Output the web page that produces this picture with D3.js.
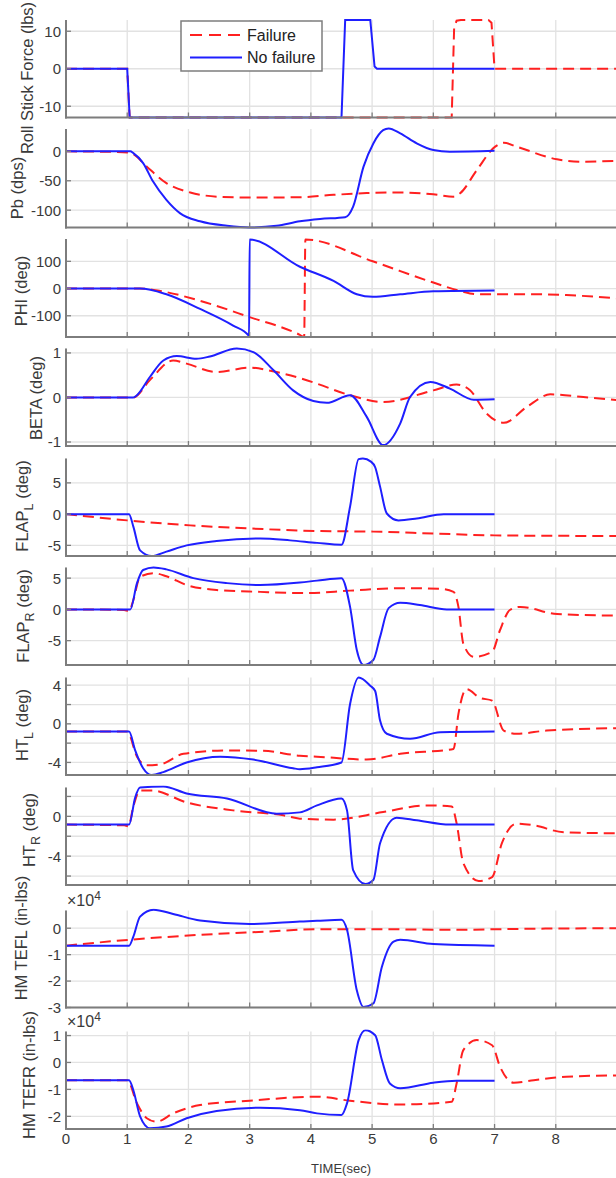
<!DOCTYPE html>
<html>
<head>
<meta charset="utf-8">
<script src="https://cdn.jsdelivr.net/npm/d3@7"></script>
<style>
  body { margin: 0; background: #fff; }
  svg { display: block; font-family: "Liberation Sans", Arial, sans-serif; }
</style>
</head>
<body>
<svg id="chart"></svg>
<script>
// time axis
const timeTicks = [0, 1, 2, 3, 4, 5, 6, 7, 8];
const seriesNames = ["Failure", "No failure"];

// each series is [time (sec), value]
const rollFail = [[0,0],[1.0,0],[1.04,-13],[6.30,-13],[6.34,11],[6.38,12.8],[6.45,13],[6.9,13],[6.95,12.3],[7.0,0],[9,0]];
const rollNoFail = [[0,0],[1.0,0],[1.04,-13],[4.5,-13],[4.56,13],[4.97,13],[5.04,0.6],[5.08,0],[7,0]];

const pbFail = [[0,0],[0.8,-1],[1.0,-2],[1.1,-5],[1.32,-26],[1.64,-54],[2.03,-70],[2.46,-77],[3.0,-78.6],[3.82,-78],[4.37,-74],[4.91,-71],[5.46,-70],[6.0,-73],[6.33,-77],[6.44,-71],[6.71,-32],[7.01,8],[7.15,14.6],[7.36,8],[8.02,-13.5],[8.45,-17.6],[9,-16]];
const pbNoFail = [[0,0],[1.05,0],[1.1,-3],[1.26,-20],[1.42,-51],[1.64,-82.5],[1.86,-105],[2.19,-119],[2.63,-126.6],[3.0,-129.5],[3.44,-126.6],[3.82,-119],[4.15,-115],[4.56,-112],[4.69,-94],[4.86,-26],[5.02,13.5],[5.18,36],[5.27,39],[5.46,30.5],[5.73,13.5],[6.0,2.2],[6.27,-0.5],[7.0,1]];

const phiFail = [[0,0],[1.2,0],[1.54,-9],[2.19,-45],[3.0,-105],[3.82,-170],[3.89,-178],[3.91,180],[5.01,100],[6.0,22],[6.44,-9],[6.71,-21],[7.63,-21],[8.17,-24],[9,-36]];
const phiNoFail = [[0,0],[1.21,0],[1.64,-21],[2.19,-75],[2.73,-136],[2.98,-172],[2.99,-178],[3.0,180],[3.82,80],[4.37,28],[4.75,-21],[5.01,-30.5],[5.46,-21],[6.0,-10],[7.0,-7]];

const betaFail = [[0,0],[1.1,0],[1.37,0.39],[1.75,0.83],[1.97,0.76],[2.46,0.57],[3.0,0.67],[3.44,0.57],[3.88,0.41],[4.1,0.31],[4.64,0.05],[5.18,-0.1],[6.0,0.16],[6.38,0.29],[6.6,0.16],[6.87,-0.36],[7.15,-0.57],[7.53,-0.21],[7.91,0.07],[8.45,0.01],[9,-0.06]];
const betaNoFail = [[0,0],[1.1,0],[1.15,0.04],[1.37,0.46],[1.59,0.83],[1.81,0.93],[2.13,0.87],[2.35,0.92],[2.79,1.10],[3.06,1.02],[3.39,0.61],[3.71,0.16],[4.04,-0.08],[4.26,-0.12],[4.64,0.05],[4.91,-0.43],[5.18,-1.07],[5.46,-0.58],[5.62,0.01],[5.95,0.35],[6.27,0.2],[6.66,-0.05],[7.0,-0.04]];

const flapLFail = [[0,0],[1.0,-1],[2.03,-1.8],[3.0,-2.3],[4.1,-2.7],[5.02,-2.8],[6.0,-3.1],[7.0,-3.4],[9,-3.5]];
const flapLNoFail = [[0,0],[1.03,0],[1.1,-2],[1.21,-5.8],[1.4,-6.7],[1.64,-6],[1.97,-5],[2.46,-4.3],[3.17,-3.9],[3.66,-4.2],[4.1,-4.6],[4.5,-4.9],[4.64,1.2],[4.78,8.8],[4.85,8.9],[4.98,8.4],[5.05,7.5],[5.13,4.4],[5.24,0.1],[5.43,-1],[5.73,-0.7],[6.17,0],[7,0]];

const flapRFail = [[0,0],[0.95,-0.1],[1.03,-0.3],[1.1,1.5],[1.21,5.2],[1.43,5.8],[1.64,5.3],[1.97,3.9],[2.46,3.1],[3.17,2.8],[3.93,2.6],[4.64,3.0],[5.46,3.4],[6.11,3.3],[6.33,2.8],[6.41,0.4],[6.49,-5.5],[6.66,-7.6],[6.96,-6.8],[7.09,-3.3],[7.25,-0.1],[7.42,0.4],[8.02,-0.75],[9,-1.0]];
const flapRNoFail = [[0,0],[1.05,0],[1.16,4.2],[1.26,6.3],[1.43,6.7],[1.64,6.4],[2.08,5.0],[2.63,4.2],[3.17,3.9],[3.82,4.3],[4.1,4.6],[4.5,5.0],[4.64,0.4],[4.75,-6.5],[4.86,-8.9],[5.02,-8.1],[5.13,-4.4],[5.27,0.2],[5.46,1.06],[5.78,0.7],[6.22,0],[7,0]];

const htLFail = [[0,-0.8],[1.0,-0.8],[1.16,-3.4],[1.32,-4.3],[1.54,-4.2],[1.92,-3.1],[2.63,-2.75],[3.22,-2.8],[3.82,-3.3],[4.1,-3.4],[4.91,-3.7],[5.46,-3.1],[6.33,-2.6],[6.41,1.03],[6.54,3.6],[6.76,2.7],[6.96,2.4],[7.15,-0.7],[7.36,-1.03],[7.85,-0.7],[9,-0.45]];
const htLNoFail = [[0,-0.8],[1.03,-0.8],[1.13,-2.75],[1.26,-4.6],[1.4,-5.3],[1.59,-5.0],[1.97,-4.0],[2.52,-3.4],[3.06,-3.7],[3.71,-4.6],[3.82,-4.7],[4.1,-4.5],[4.5,-4.0],[4.64,2.06],[4.78,4.8],[4.97,3.95],[5.05,3.4],[5.13,0.34],[5.24,-1.03],[5.62,-1.55],[6.11,-0.87],[7,-0.8]];

const htRFail = [[0,-0.83],[0.95,-0.9],[1.02,-1.0],[1.1,1.0],[1.21,2.6],[1.4,2.6],[1.97,1.4],[2.73,0.6],[3.55,0.1],[3.82,-0.23],[4.37,-0.33],[5.18,0.43],[5.89,1.1],[6.3,1.0],[6.38,-0.7],[6.49,-4.7],[6.74,-6.5],[6.96,-6.1],[7.12,-2.7],[7.36,-0.73],[7.64,-0.9],[8.13,-1.6],[9,-1.7]];
const htRNoFail = [[0,-0.83],[1.03,-0.83],[1.13,1.9],[1.21,2.9],[1.59,3.0],[1.97,2.3],[2.63,1.8],[3.44,0.27],[3.82,0.4],[4.1,1.1],[4.5,1.8],[4.59,0.6],[4.69,-5.4],[4.89,-6.8],[5.02,-6.4],[5.13,-2.7],[5.4,-0.13],[5.73,-0.4],[6.27,-0.83],[7,-0.83]];

// hinge moments in units of 10^4 in-lbs
const hmLFail = [[0,-0.66],[1.02,-0.44],[2.19,-0.25],[3.27,-0.13],[4.1,-0.04],[5.0,-0.04],[6.55,-0.06],[7.0,-0.04],[9,0]];
const hmLNoFail = [[0,-0.66],[1.03,-0.66],[1.1,-0.32],[1.21,0.44],[1.43,0.70],[1.75,0.54],[2.19,0.29],[3.0,0.16],[3.82,0.25],[4.1,0.28],[4.5,0.32],[4.59,-0.06],[4.75,-2.35],[4.86,-2.98],[5.02,-2.85],[5.16,-1.46],[5.35,-0.51],[5.46,-0.44],[6.0,-0.6],[7,-0.66]];

const hmRFail = [[0,-0.66],[1.0,-0.66],[1.16,-1.52],[1.32,-2.07],[1.48,-2.2],[1.75,-1.89],[2.19,-1.58],[3.0,-1.42],[4.1,-1.27],[4.64,-1.42],[5.46,-1.56],[6.3,-1.46],[6.38,-0.78],[6.49,0.46],[6.71,0.83],[6.96,0.64],[7.09,-0.16],[7.31,-0.75],[7.64,-0.66],[8.17,-0.53],[9,-0.48]];
const hmRNoFail = [[0,-0.66],[1.03,-0.66],[1.1,-1.03],[1.21,-2.0],[1.37,-2.44],[1.64,-2.38],[1.97,-2.07],[2.46,-1.8],[3.17,-1.68],[3.82,-1.77],[4.1,-1.89],[4.5,-1.95],[4.59,-1.52],[4.78,0.83],[4.89,1.2],[5.05,1.01],[5.16,0.09],[5.29,-0.78],[5.46,-0.96],[6.0,-0.75],[6.38,-0.68],[7,-0.68]];

// y ticks (grid) and which of them carry a label
const rollTicks = [-10, 0, 10];
const pbTicks = [-100, -50, 0];
const phiTicks = [-100, 0, 100];
const betaTicks = [-1, 0, 1];
const flapTicks = [-5, 0, 5];
const htLTicks = [-4, -2, 0, 2, 4], htLLabels = [-4, 0, 4];
const htRTicks = [-6, -4, -2, 0, 2], htRLabels = [-4, 0];
const hmLTicks = [-3, -2, -1, 0];
const hmRTicks = [-2, -1, 0, 1];

const width = 616, height = 1178;
const svg = d3.select("#chart").attr("width", width).attr("height", height);

const fontTick = 15, fontLabel = 16.5;
const axisColor = "#7d7d7d", gridColor = "#e2e2e2", textColor = "#3a3a3a";
const failColor = "#ff2020", okColor = "#1f1fff";

const x = d3.scaleLinear().domain([0, 9]).range([66, 617]);

// panel layout: top/bottom pixel rows, y domain and label placement
const panels = [
  { fail: rollFail,  ok: rollNoFail,  dom: [-13, 13],      ticks: rollTicks, top: 20,    bot: 117.5, label: ["Roll Stick Force (lbs)"], lx: 33, ly: 78, step: true },
  { fail: pbFail,    ok: pbNoFail,    dom: [-129.5, 38],   ticks: pbTicks,   top: 129,   bot: 227.5, label: ["Pb (dps)"], lx: 23, ly: 188 },
  { fail: phiFail,   ok: phiNoFail,   dom: [-178, 182],    ticks: phiTicks,  top: 239,   bot: 337,   label: ["PHI (deg)"], lx: 27, ly: 291 },
  { fail: betaFail,  ok: betaNoFail,  dom: [-1.09, 1.1],   ticks: betaTicks, top: 348.5, bot: 446,   label: ["BETA (deg)"], lx: 42, ly: 398 },
  { fail: flapLFail, ok: flapLNoFail, dom: [-6.7, 8.9],    ticks: flapTicks, top: 458.5, bot: 556,   label: ["FLAP", "L", " (deg)"], lx: 28, ly: 506 },
  { fail: flapRFail, ok: flapRNoFail, dom: [-8.9, 6.7],    ticks: flapTicks, top: 567.5, bot: 665,   label: ["FLAP", "R", " (deg)"], lx: 29, ly: 616 },
  { fail: htLFail,   ok: htLNoFail,   dom: [-5.3, 4.8],    ticks: htLTicks,  labels: htLLabels, top: 677.5, bot: 775, label: ["HT", "L", " (deg)"], lx: 28, ly: 725 },
  { fail: htRFail,   ok: htRNoFail,   dom: [-6.9, 2.9],    ticks: htRTicks,  labels: htRLabels, top: 787.5, bot: 885, label: ["HT", "R", " (deg)"], lx: 35, ly: 830 },
  { fail: hmLFail,   ok: hmLNoFail,   dom: [-3, 0.67],     ticks: hmLTicks,  top: 910.5, bot: 1007.5, label: ["HM TEFL (in-lbs)"], lx: 27, ly: 938, exp: true },
  { fail: hmRFail,   ok: hmRNoFail,   dom: [-2.47, 1.15],  ticks: hmRTicks,  top: 1031.5, bot: 1129, label: ["HM TEFR (in-lbs)"], lx: 35, ly: 1075, exp: true }
];

const fmt = d => (d < 0 ? "-" : "") + Math.abs(d);

svg.append("defs").selectAll("clipPath")
  .data(panels)
  .join("clipPath")
    .attr("id", (d, i) => "clip" + i)
  .append("rect")
    .attr("x", x(0)).attr("y", d => d.top - 2)
    .attr("width", width - x(0)).attr("height", d => d.bot - d.top + 4);

panels.forEach(function(p, i) {
  const y = d3.scaleLinear().domain(p.dom).range([p.bot, p.top]);
  const g = svg.append("g").attr("class", "panel");

  // grid
  g.append("g").selectAll("line")
    .data(timeTicks)
    .join("line")
      .attr("x1", d => x(d)).attr("x2", d => x(d))
      .attr("y1", p.top).attr("y2", p.bot)
      .attr("stroke", gridColor).attr("stroke-width", 1.3);
  g.append("g").selectAll("line")
    .data(p.ticks)
    .join("line")
      .attr("x1", x(0)).attr("x2", width)
      .attr("y1", d => y(d)).attr("y2", d => y(d))
      .attr("stroke", gridColor).attr("stroke-width", 1.3);

  // curves: failure (dashed) under no failure (solid)
  const line = d3.line()
    .x(d => x(d[0]))
    .y(d => y(d[1]))
    .curve(p.step ? d3.curveLinear : d3.curveMonotoneX);

  const curves = g.append("g").attr("clip-path", `url(#clip${i})`);
  curves.append("path")
    .attr("d", line(p.fail))
    .attr("fill", "none")
    .attr("stroke", failColor)
    .attr("stroke-width", 2)
    .attr("stroke-dasharray", "11,6");
  curves.append("path")
    .attr("d", line(p.ok))
    .attr("fill", "none")
    .attr("stroke", okColor)
    .attr("stroke-width", 2);

  // axes (left + bottom only, inward ticks)
  g.append("line")
    .attr("x1", x(0)).attr("x2", x(0))
    .attr("y1", p.top).attr("y2", p.bot + 1)
    .attr("stroke", axisColor).attr("stroke-width", 2);
  g.append("line")
    .attr("x1", x(0) - 1).attr("x2", width)
    .attr("y1", p.bot).attr("y2", p.bot)
    .attr("stroke", axisColor).attr("stroke-width", 2);
  g.append("g").selectAll("line")
    .data(timeTicks.slice(1))
    .join("line")
      .attr("x1", d => x(d)).attr("x2", d => x(d))
      .attr("y1", p.bot).attr("y2", p.bot - 5)
      .attr("stroke", axisColor).attr("stroke-width", 1.3);
  g.append("g").selectAll("line")
    .data(p.ticks)
    .join("line")
      .attr("x1", x(0)).attr("x2", x(0) + 5)
      .attr("y1", d => y(d)).attr("y2", d => y(d))
      .attr("stroke", axisColor).attr("stroke-width", 1.3);

  g.append("g").selectAll("text")
    .data(p.labels || p.ticks)
    .join("text")
      .attr("x", 61)
      .attr("y", d => y(d))
      .attr("dy", "0.36em")
      .attr("text-anchor", "end")
      .attr("font-size", fontTick)
      .attr("fill", textColor)
      .text(fmt);

  // y label (rotated, optional subscript)
  const lab = g.append("text")
    .attr("transform", `translate(${p.lx},${p.ly}) rotate(-90)`)
    .attr("text-anchor", "middle")
    .attr("font-size", fontLabel)
    .attr("fill", textColor);
  lab.append("tspan").text(p.label[0]);
  if (p.label.length > 1) {
    lab.append("tspan").attr("dy", 5).attr("font-size", 12.5).text(p.label[1]);
    lab.append("tspan").attr("dy", -5).text(p.label[2]);
  }

  // exponent marker
  if (p.exp) {
    const e = g.append("text")
      .attr("x", 67).attr("y", p.top - 5)
      .attr("font-size", 16)
      .attr("fill", textColor);
    e.append("tspan").text("\u00d710");
    e.append("tspan").attr("dy", -6).attr("font-size", 12).text("4");
  }
});

// x tick labels and title under the last panel
const lastBot = panels[panels.length - 1].bot;
svg.append("g").selectAll("text")
  .data(timeTicks)
  .join("text")
    .attr("x", d => x(d))
    .attr("y", lastBot + 14.5)
    .attr("text-anchor", "middle")
    .attr("font-size", fontTick)
    .attr("fill", textColor)
    .text(d => d);
svg.append("text")
  .attr("x", (x(0) + width) / 2)
  .attr("y", lastBot + 44)
  .attr("text-anchor", "middle")
  .attr("font-size", 13)
  .attr("fill", textColor)
  .text("TIME(sec)");

// legend
const legend = svg.append("g").attr("transform", "translate(181,21)");
legend.append("rect")
  .attr("width", 141).attr("height", 50)
  .attr("fill", "#fff")
  .attr("stroke", "#7d7d7d").attr("stroke-width", 1.5);
const legendItems = legend.selectAll("g.item")
  .data(seriesNames)
  .join("g")
    .attr("class", "item")
    .attr("transform", (d, i) => `translate(0,${14 + i * 22.5})`);
legendItems.append("line")
  .attr("x1", 9).attr("x2", 61)
  .attr("stroke", (d, i) => i === 0 ? failColor : okColor)
  .attr("stroke-width", 2)
  .attr("stroke-dasharray", (d, i) => i === 0 ? "12,7" : null);
legendItems.append("text")
  .attr("x", 66)
  .attr("dy", "0.36em")
  .attr("font-size", 16)
  .attr("fill", "#222")
  .text(d => d);
</script>
</body>
</html>
